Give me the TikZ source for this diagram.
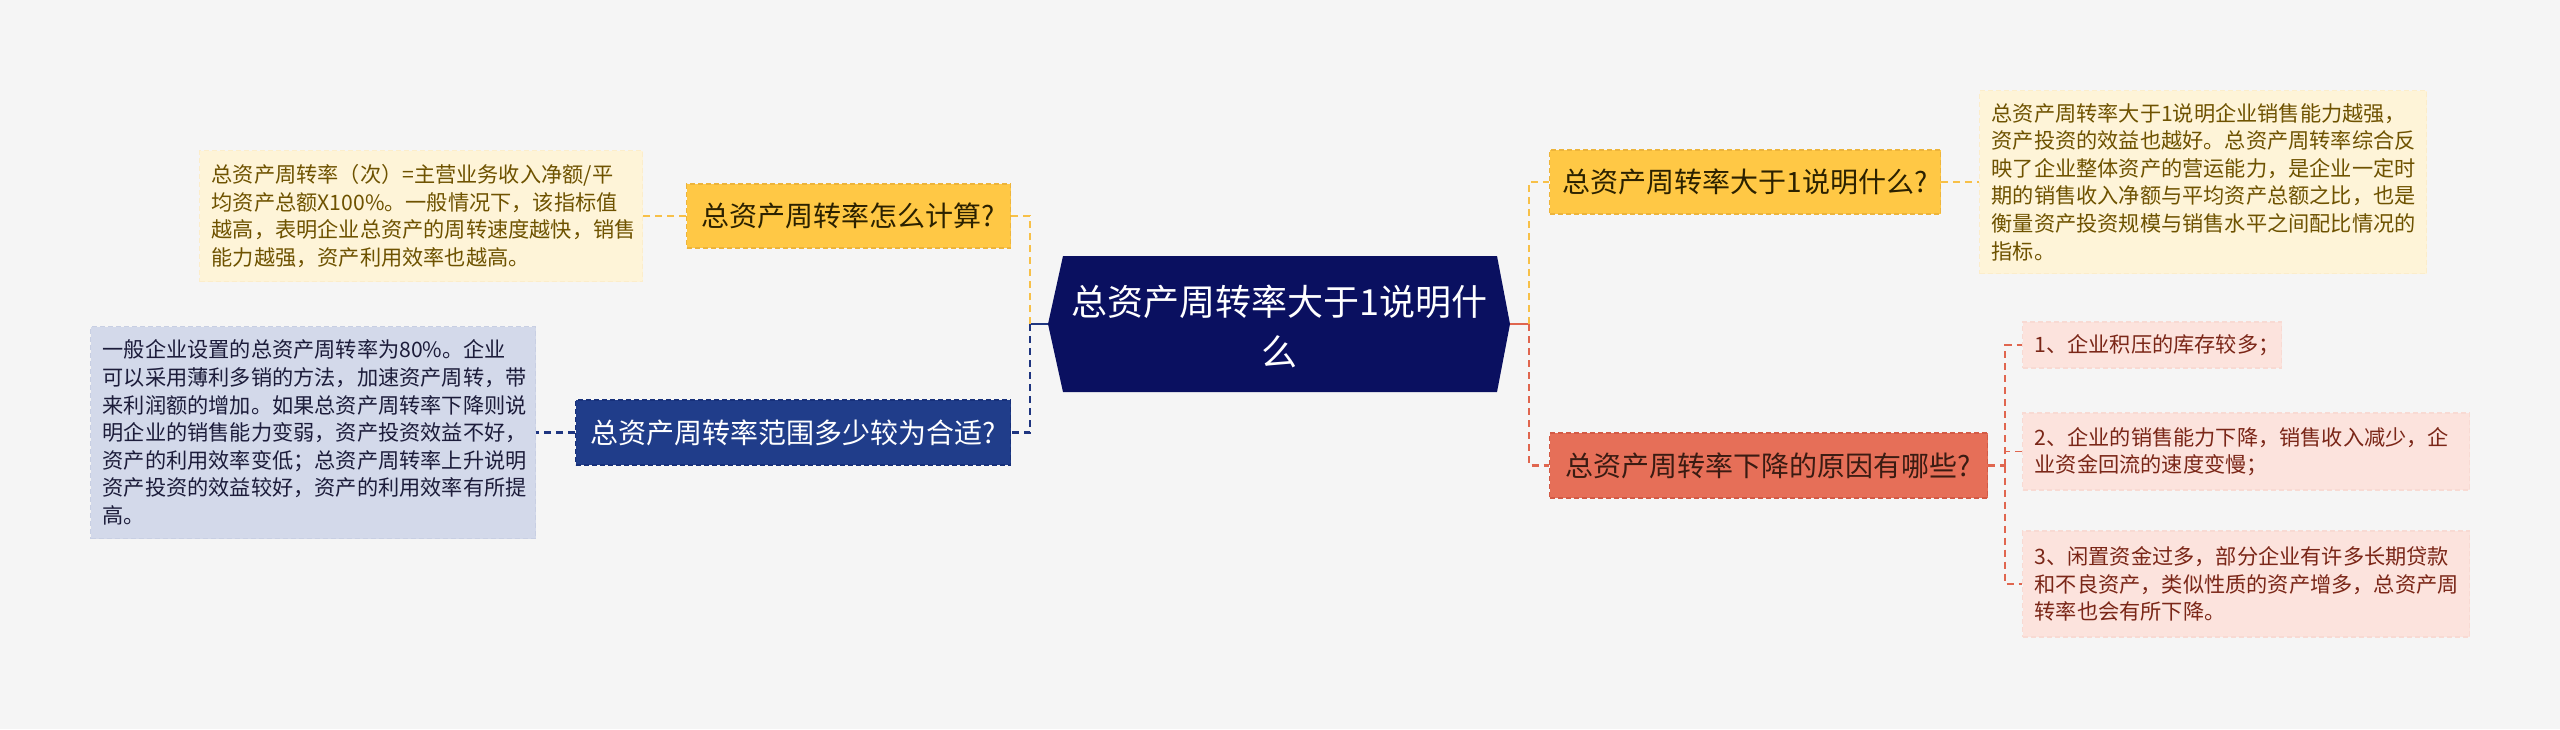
\documentclass[tikz,border=0pt]{standalone}
\usepackage{fontspec}
\setmainfont{Noto Sans CJK SC}
\definecolor{bg}{HTML}{F5F5F5}
\definecolor{navy}{HTML}{0A1060}
\definecolor{yel}{HTML}{FFC845}
\definecolor{yelb}{HTML}{EDB43A}
\definecolor{yleaf}{HTML}{FEF4D8}
\definecolor{yleafb}{HTML}{FCEDCA}
\definecolor{ytext}{HTML}{6E5200}
\definecolor{blu}{HTML}{203D8A}
\definecolor{blub}{HTML}{17307A}
\definecolor{bleaf}{HTML}{D3D9EA}
\definecolor{bleafb}{HTML}{C8CFE3}
\definecolor{btext}{HTML}{1C1C3A}
\definecolor{cor}{HTML}{E66F58}
\definecolor{corb}{HTML}{D35A45}
\definecolor{pleaf}{HTML}{FCE3DD}
\definecolor{pleafb}{HTML}{F8DAD3}
\definecolor{ptext}{HTML}{7A2617}
\definecolor{dtext}{HTML}{3A1B12}
\definecolor{ytxt}{HTML}{2B2100}
\definecolor{lineY}{HTML}{F7C048}
\definecolor{lineB}{HTML}{1E3580}
\definecolor{lineO}{HTML}{E0664F}
\begin{document}
\begin{tikzpicture}[x=1pt,y=-1pt,
  mainbox/.style={draw, dash pattern=on 5pt off 3pt, line width=1.2pt, inner sep=0pt, anchor=west, align=center, font=\fontsize{28}{34}\selectfont},
  leafbox/.style={draw, dash pattern=on 5pt off 3pt, line width=1.2pt, inner xsep=12pt, inner ysep=0pt, anchor=west, align=left, font=\fontsize{21.2}{27.6}\selectfont},
  conn/.style={line width=2.6pt, dash pattern=on 7pt off 5pt},
  stub/.style={line width=2.6pt}
]
\useasboundingbox[fill=bg] (0,0) rectangle (2560,729);

% root hexagon
\fill[navy] (1048,324) -- (1063,256) -- (1497,256) -- (1510,324) -- (1497,392) -- (1063,392) -- cycle;
\node[text=white, align=center, font=\fontsize{36}{50}\selectfont] (root) at (1279,326) {总资产周转率大于1说明什\\么};
\coordinate (rootW) at (1048,324);
\coordinate (rootE) at (1510,324);
\coordinate (jl) at (1030,324);
\coordinate (jr) at (1529,324);

% left branch
\node[mainbox, fill=yel, draw=yelb, text=ytxt, minimum width=324pt, minimum height=64pt] (A) at (686,216) {总资产周转率怎么计算?};
\node[leafbox, fill=yleaf, draw=yleafb, text=ytext, text width=419pt, minimum height=131pt] (A1) at (199,216)
  {总资产周转率（次）=主营业务收入净额/平\\均资产总额X100\%。一般情况下，该指标值\\越高，表明企业总资产的周转速度越快，销售\\能力越强，资产利用效率也越高。};

\node[mainbox, fill=blu, draw=blub, text=white, minimum width=435pt, minimum height=65pt] (B) at (575,432.5) {总资产周转率范围多少较为合适?};
\node[leafbox, fill=bleaf, draw=bleafb, text=btext, text width=421pt, minimum height=212pt] (B1) at (90,432.5)
  {一般企业设置的总资产周转率为80\%。企业\\可以采用薄利多销的方法，加速资产周转，带\\来利润额的增加。如果总资产周转率下降则说\\明企业的销售能力变弱，资产投资效益不好，\\资产的利用效率变低；总资产周转率上升说明\\资产投资的效益较好，资产的利用效率有所提\\高。};

% right branch
\node[mainbox, fill=yel, draw=yelb, text=ytxt, minimum width=391pt, minimum height=64pt] (C) at (1549,182) {总资产周转率大于1说明什么?};
\node[leafbox, fill=yleaf, draw=yleafb, text=ytext, text width=423pt, minimum height=183pt] (C1) at (1979,182)
  {总资产周转率大于1说明企业销售能力越强，\\资产投资的效益也越好。总资产周转率综合反\\映了企业整体资产的营运能力，是企业一定时\\期的销售收入净额与平均资产总额之比，也是\\衡量资产投资规模与销售水平之间配比情况的\\指标。};

\node[mainbox, fill=cor, draw=corb, text=dtext, minimum width=438pt, minimum height=65pt] (D) at (1549,465.5) {总资产周转率下降的原因有哪些?};
\node[leafbox, fill=pleaf, draw=pleafb, text=ptext, text width=235pt, minimum height=46pt] (D1) at (2022,345) {1、企业积压的库存较多；};
\node[leafbox, fill=pleaf, draw=pleafb, text=ptext, text width=423pt, minimum height=77pt] (D2) at (2022,451.5)
  {2、企业的销售能力下降，销售收入减少，企\\业资金回流的速度变慢；};
\node[leafbox, fill=pleaf, draw=pleafb, text=ptext, text width=423pt, minimum height=106pt] (D3) at (2022,584)
  {3、闲置资金过多，部分企业有许多长期贷款\\和不良资产，类似性质的资产增多，总资产周\\转率也会有所下降。};
\coordinate (jd) at (2005,465.5);

% connectors
\draw[stub, lineB] (rootW) -- (jl);
\draw[conn, lineY] (jl) |- (A.east);
\draw[conn, lineB] (jl) |- (B.east);
\draw[stub, lineO] (rootE) -- (jr);
\draw[conn, lineY] (jr) |- (C.west);
\draw[conn, lineO] (jr) |- (D.west);
\draw[conn, lineY] (A.west) -- (A1.east);
\draw[conn, lineB] (B.west) -- (B1.east);
\draw[conn, lineY] (C.east) -- (C1.west);
\draw[conn, lineO] (D.east) -- (jd);
\draw[conn, lineO, line width=1.6pt] (jd) |- (D1.west);
\draw[conn, lineO, line width=1.6pt] (jd) |- (D2.west);
\draw[conn, lineO, line width=1.6pt] (jd) |- (D3.west);
\end{tikzpicture}
\end{document}
